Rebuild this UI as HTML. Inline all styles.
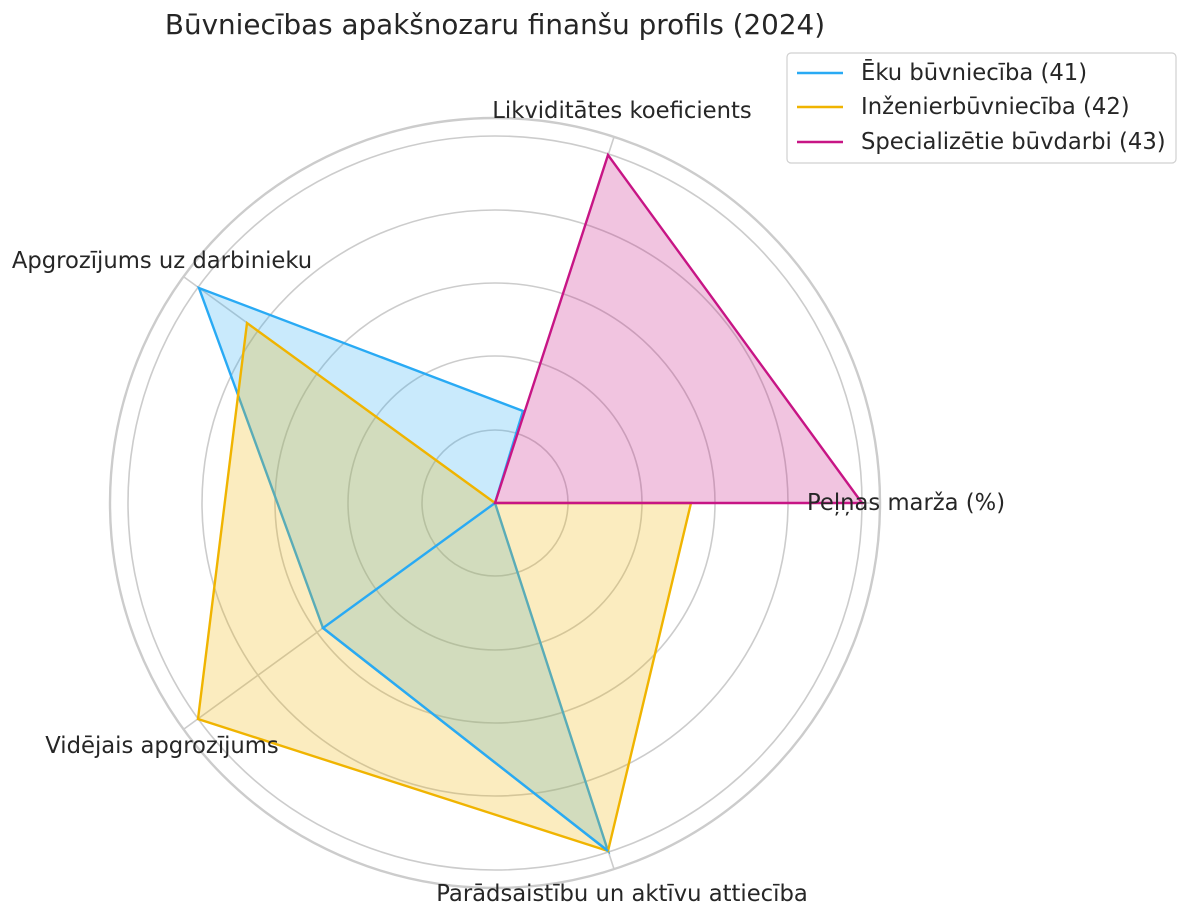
<!DOCTYPE html>
<html><head><meta charset="utf-8"><style>body{margin:0;background:#fff}svg{display:block}text{font-family:"DejaVu Sans","Liberation Sans",sans-serif;fill:#262626}</style></head><body>
<svg width="1186" height="917" viewBox="0 0 1186 917">
<g fill="none" stroke="#cccccc" stroke-width="1.6">
<circle cx="495" cy="503" r="73"/><circle cx="495" cy="503" r="147"/><circle cx="495" cy="503" r="220"/><circle cx="495" cy="503" r="293"/><circle cx="495" cy="503" r="367"/>
<line x1="495" y1="503" x2="880" y2="503"/><line x1="495" y1="503" x2="614" y2="137"/><line x1="495" y1="503" x2="184" y2="277"/><line x1="495" y1="503" x2="184" y2="729"/><line x1="495" y1="503" x2="614" y2="869"/>
<circle cx="495" cy="503" r="385" stroke-width="2.4"/>
</g>
<polygon points="495,503 523,411 199,288 323,628 608,851" fill="#29aaf4" fill-opacity="0.25" stroke="#29aaf4" stroke-width="2.4"/>
<polygon points="691,503 495,503 247,323 198,719 608,851" fill="#f0b400" fill-opacity="0.25" stroke="#f0b400" stroke-width="2.4"/>
<polyline points="495,503 323,628 608,851" fill="none" stroke="#29aaf4" stroke-width="2.4"/>
<polygon points="862,503 608,155 495,503 495,503 495,503" fill="#c71585" fill-opacity="0.25" stroke="#c71585" stroke-width="2.4"/>
<text x="495" y="34" font-size="27.8" text-anchor="middle">Būvniecības apakšnozaru finanšu profils (2024)</text>
<g font-size="22.7">
<text x="807" y="510">Peļņas marža (%)</text>
<text x="622" y="118" text-anchor="middle">Likviditātes koeficients</text>
<text x="162" y="268" text-anchor="middle">Apgrozījums uz darbinieku</text>
<text x="162" y="753" text-anchor="middle">Vidējais apgrozījums</text>
<text x="622" y="901" text-anchor="middle">Parādsaistību un aktīvu attiecība</text>
</g>
<rect x="787" y="53" width="389" height="110" rx="4" fill="#fff" stroke="#d0d0d0" stroke-width="1.2"/>
<g stroke-width="2.4"><line x1="797" y1="73" x2="843" y2="73" stroke="#29aaf4"/><line x1="797" y1="107" x2="843" y2="107" stroke="#f0b400"/><line x1="797" y1="142" x2="843" y2="142" stroke="#c71585"/></g>
<g font-size="22.7"><text x="861" y="80">Ēku būvniecība (41)</text><text x="861" y="114">Inženierbūvniecība (42)</text><text x="861" y="149">Specializētie būvdarbi (43)</text></g>
</svg>
</body></html>
